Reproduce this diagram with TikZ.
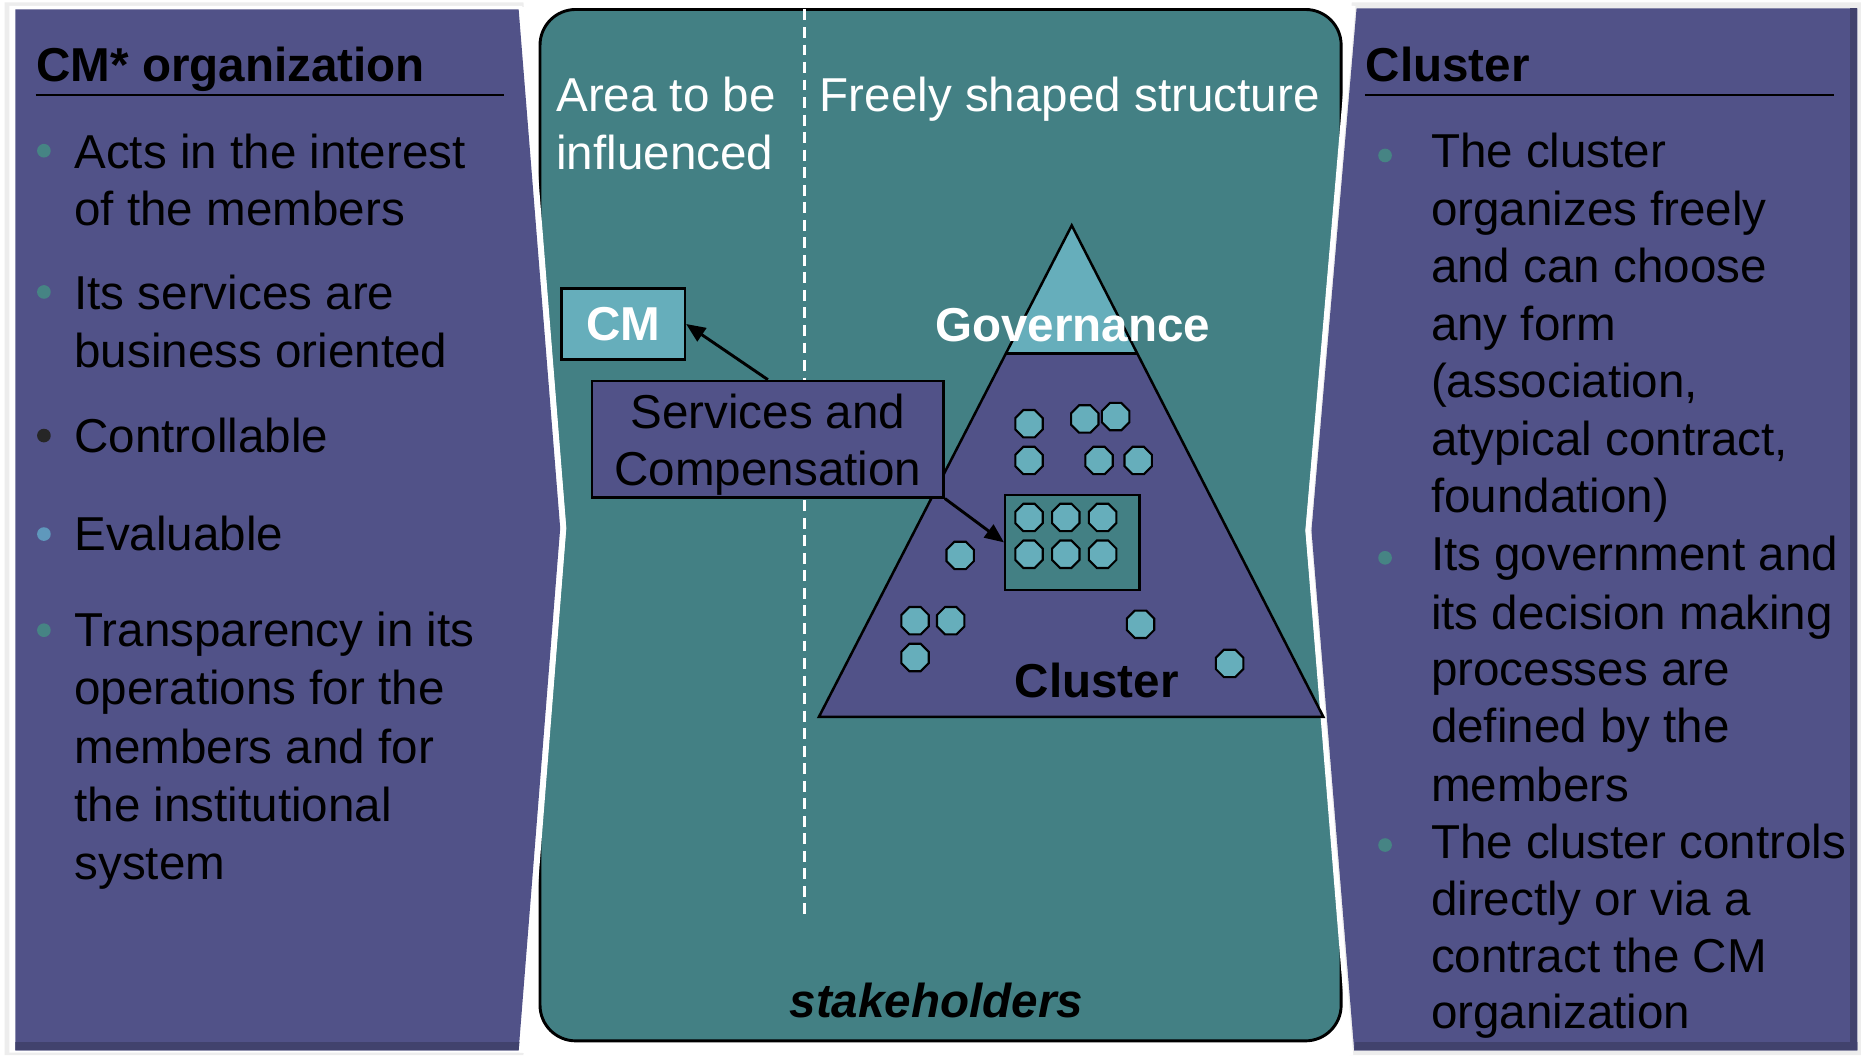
\documentclass[tikz,border=0pt]{standalone}
\usepackage{fontspec}
\setmainfont{Liberation Sans}
\usetikzlibrary{shapes.geometric,arrows.meta}
\definecolor{tealbg}{RGB}{67,128,132}
\definecolor{purp}{RGB}{81,82,136}
\definecolor{lteal}{RGB}{102,174,187}
\definecolor{bulteal}{RGB}{70,132,132}
\definecolor{bulblue}{RGB}{95,152,188}
\begin{document}
\begin{tikzpicture}[x=0.01cm,y=-0.01cm,
  fs/.style={font=\fontsize{11.4}{13.7}\selectfont},
  fsb/.style={font=\fontsize{11.4}{13.7}\selectfont\bfseries},
  ln/.style={fs, anchor=base west, inner sep=0pt, text=black},
  wln/.style={fs, anchor=base west, inner sep=0pt, text=white},
  hdr/.style={fsb, anchor=base west, inner sep=0pt, text=black},
  oct/.style={regular polygon, regular polygon sides=8, minimum size=0.25cm, inner sep=0pt, draw=black, line width=0.5pt, fill=lteal},
  bul/.style={circle, inner sep=0pt, minimum size=0.115cm},
  arr/.style={-{Triangle[length=4.6pt,width=3.8pt]}, line width=0.7pt, black},
  edge/.style={line width=0.6pt, black}]
\useasboundingbox (0,0) rectangle (1568,889);
\fill[white] (0,0) rectangle (1568,889);

% ---------- central teal panel ----------
\draw[fill=tealbg, line width=0.7pt, rounded corners=0.3cm] (455,8) rectangle (1130,877);
\coordinate (dtop) at (678,8);
\coordinate (dbot) at (678,770);
\draw[white, line width=0.6pt, dash pattern=on 2.6pt off 1.6pt] (dtop) -- (dbot);

% ---------- left panel ----------
\fill[gray!14] (4,2) -- (441,2) -- (477,445) -- (441,889) -- (4,889) -- cycle;
\fill[white] (8,5) -- (440,5) -- (476,445) -- (440,887) -- (8,887) -- cycle;
\fill[purp] (13,8) -- (437,8) -- (472,445) -- (437,885) -- (13,885) -- cycle;
\fill[purp!80!black] (13,878) -- (437.6,878) -- (437,885) -- (13,885) -- cycle;
\draw[white, line width=1.2pt] (440,6) -- (475,445) -- (440,887);

% ---------- right panel ----------
\fill[gray!14] (1139,2) -- (1568,2) -- (1568,889) -- (1137,889) -- (1100,447) -- cycle;
\fill[purp] (1143,7) -- (1565,7) -- (1565,885) -- (1141,885) -- (1105,447) -- cycle;
\fill[purp!80!black] (1141.5,878) -- (1565,878) -- (1565,885) -- (1141,885) -- cycle;
\fill[purp!80!black] (1559,7) -- (1565,7) -- (1565,885) -- (1559,885) -- cycle;
\draw[white, line width=1.2pt] (1140,5) -- (1102,447) -- (1138,889);

% ---------- left panel text ----------
\node[hdr] (lhead) at (30,69) {CM* organization};
\coordinate (lul1) at (30,80);
\coordinate (lul2) at (425,80);
\draw[line width=0.5pt] (lul1) -- (lul2);

\node[bul, fill=bulteal] (lb1) at (37,127) {};
\node[bul, fill=bulteal] (lb2) at (37,246) {};
\node[bul, fill=black!85] (lb3) at (37,367) {};
\node[bul, fill=bulblue] (lb4) at (37,450) {};
\node[bul, fill=bulteal] (lb5) at (37,531) {};

\foreach \yy/\tx [count=\i] in {142/Acts in the interest, 190/of the members,
   261/Its services are, 310/business oriented, 381/Controllable, 464/Evaluable,
   545/Transparency in its, 594/operations for the, 643/members and for,
   692/the institutional, 741/system}
  \node[ln] (lt\i) at (62,\yy) {\tx};

% ---------- right panel text ----------
\node[hdr] (rhead) at (1150,69) {Cluster};
\coordinate (rul1) at (1150,80);
\coordinate (rul2) at (1545,80);
\draw[line width=0.5pt] (rul1) -- (rul2);

\node[bul, fill=bulteal] (rb1) at (1167,131) {};
\node[bul, fill=bulteal] (rb2) at (1167,470) {};
\node[bul, fill=bulteal] (rb3) at (1167,712) {};

\foreach \yy/\tx [count=\i] in {141/The cluster, 190/organizes freely, 238/and can choose,
   287/any form, 335/{(association,}, 384/{atypical contract,}, 432/foundation),
   481/Its government and, 530/its decision making, 578/processes are,
   626/defined by the, 675/members, 723/The cluster controls,
   771/directly or via a, 819/contract the CM, 867/organization}
  \node[ln] (rt\i) at (1205,\yy) {\tx};

% ---------- central texts ----------
\node[wln] (area1) at (468,94) {Area to be};
\node[wln] (area2) at (468,143) {influenced};
\node[wln] (free) at (690,94) {Freely shaped structure};

% ---------- pyramid ----------
\coordinate (apex) at (903,190);
\coordinate (bl) at (690,604);
\coordinate (br) at (1115,604);
\coordinate (gl) at (847.4,298);
\coordinate (gr) at (958.3,298);
\fill[lteal] (apex) -- (gl) -- (gr) -- cycle;
\fill[purp] (gl) -- (bl) -- (br) -- (gr) -- cycle;
\draw[edge] (gl) -- (gr);
\draw[edge, line join=miter] (apex) -- (bl) -- (br) -- cycle;

\node[fsb, text=white, anchor=base, inner sep=0pt] (gov) at (904,288) {Governance};
\node[fsb, text=black, anchor=base, inner sep=0pt] (clu) at (924,588) {Cluster};

% inner group box
\node[draw=black, line width=0.6pt, fill=tealbg, inner sep=0pt, minimum width=1.13cm, minimum height=0.8cm] (ibox) at (903.5,457) {};

% octagons
\foreach \px/\py [count=\i] in {867/357, 914/353, 940/351, 867/388, 926/388, 959/388,
   809/468, 771/523, 801/523, 771/554, 961/526, 1036/559,
   867/436, 898/436, 929/436, 867/467, 898/467, 929/467}
  \node[oct] (o\i) at (\px,\py) {};

% ---------- CM and services boxes ----------
\node[draw=black, line width=0.6pt, fill=lteal, inner sep=0pt, minimum width=1.04cm, minimum height=0.6cm, fsb, text=white] (cm) at (525,273) {CM};
\node[draw=black, line width=0.6pt, fill=purp, inner sep=0pt, minimum width=2.96cm, minimum height=0.98cm] (svc) at (647,370) {};
\node[fs, anchor=base, inner sep=0pt, text=black] (svc1) at (647,361) {Services and};
\node[fs, anchor=base, inner sep=0pt, text=black] (svc2) at (647,409) {Compensation};

\draw[arr] (svc.north) -- (cm.east);
\draw[arr] (svc.south east) -- (ibox.west);

% ---------- stakeholders ----------
\node[font=\fontsize{11.4}{13.7}\selectfont\bfseries\itshape, anchor=base, inner sep=0pt, text=black] (stk) at (789,857) {stakeholders};
\end{tikzpicture}
\end{document}
